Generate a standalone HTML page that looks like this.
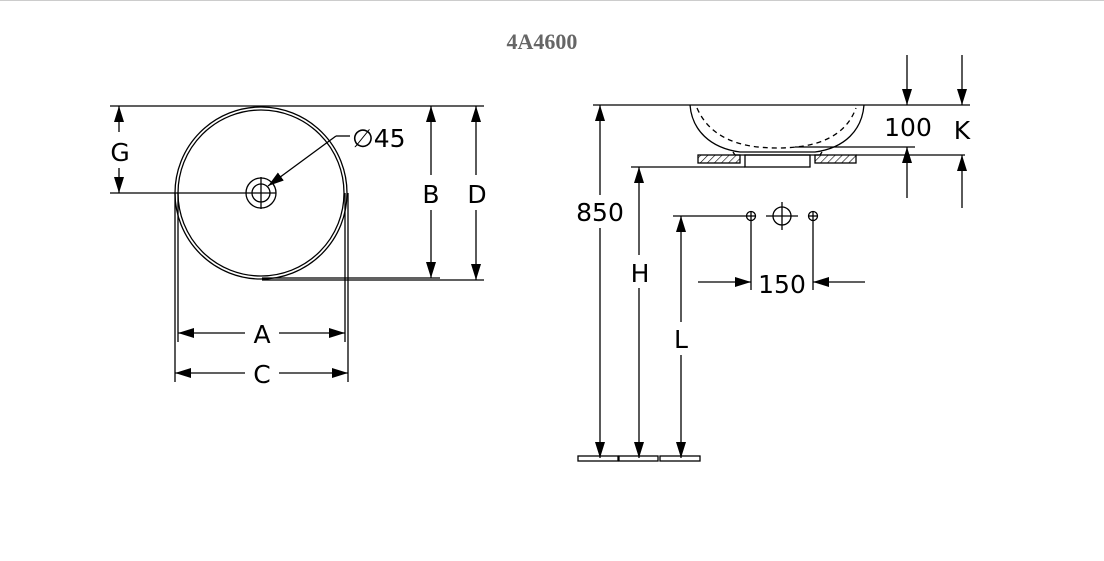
<!DOCTYPE html>
<html><head><meta charset="utf-8"><style>
html,body{margin:0;padding:0;background:#fff;}
svg{display:block;}
text{font-family:"DejaVu Sans","Liberation Sans",sans-serif;font-size:25px;fill:#000;}
</style></head><body>
<svg width="1104" height="561" viewBox="0 0 1104 561" xmlns="http://www.w3.org/2000/svg">
<defs>
<marker id="a" viewBox="0 0 16 10" refX="16" refY="5" markerWidth="16" markerHeight="10" markerUnits="userSpaceOnUse" orient="auto-start-reverse"><path d="M0,0L16,5L0,10z" fill="#000"/></marker>
<pattern id="h" width="5" height="5" patternUnits="userSpaceOnUse" patternTransform="rotate(45)"><line x1="0" y1="0" x2="0" y2="5" stroke="#000" stroke-width="1.2"/></pattern>
</defs>
<line x1="0" y1="0.5" x2="1104" y2="0.5" stroke="#ccc"/>
<text x="542" y="49" text-anchor="middle" style="font-family:'Liberation Serif',serif;font-weight:bold;font-size:22px;fill:#666">4A4600</text>
<g stroke="#000" stroke-width="1.3" fill="none">
<circle cx="261" cy="193" r="86"/>
<circle cx="261" cy="193" r="83"/>
<circle cx="261" cy="193" r="15"/>
<circle cx="261" cy="193" r="9"/>
<line x1="246" y1="193" x2="276" y2="193"/><line x1="261" y1="177" x2="261" y2="209"/>
<line x1="110" y1="106" x2="484" y2="106"/>
<line x1="110" y1="193" x2="246" y2="193"/>
<line x1="262" y1="278" x2="440" y2="278"/>
<line x1="262" y1="280" x2="484" y2="280"/>
<line x1="175" y1="193" x2="175" y2="382"/><line x1="178" y1="193" x2="178" y2="342"/>
<line x1="348" y1="193" x2="348" y2="382"/><line x1="345" y1="193" x2="345" y2="342"/>
<line x1="119" y1="132" x2="119" y2="106" marker-end="url(#a)"/>
<line x1="119" y1="168" x2="119" y2="193" marker-end="url(#a)"/>
<line x1="431" y1="175" x2="431" y2="106" marker-end="url(#a)"/>
<line x1="431" y1="210" x2="431" y2="278" marker-end="url(#a)"/>
<line x1="476" y1="175" x2="476" y2="106" marker-end="url(#a)"/>
<line x1="476" y1="210" x2="476" y2="280" marker-end="url(#a)"/>
<line x1="245" y1="333" x2="178" y2="333" marker-end="url(#a)"/>
<line x1="279" y1="333" x2="345" y2="333" marker-end="url(#a)"/>
<line x1="245" y1="373" x2="175" y2="373" marker-end="url(#a)"/>
<line x1="279" y1="373" x2="348" y2="373" marker-end="url(#a)"/>
<polyline points="350,136 336,136"/>
<line x1="336" y1="136" x2="268" y2="186" marker-end="url(#a)"/>
<line x1="593" y1="105" x2="970" y2="105"/>
<path d="M690,105 C692,130 710,148 740,152 L815,152 C845,148 862,130 864,105"/>
<path d="M697,108 C710,138 740,148 777,148 C815,148 845,138 856,108" stroke-dasharray="5,4"/>
<path d="M733,152 L735,155 M822,152 L820,155"/>
<line x1="795" y1="147" x2="915" y2="147"/>
<line x1="735" y1="155" x2="820" y2="155"/>
<line x1="856" y1="155" x2="965" y2="155"/>
<rect x="698" y="155" width="42" height="8" fill="url(#h)"/>
<rect x="815" y="155" width="41" height="8" fill="url(#h)"/>
<rect x="745" y="155" width="65" height="12"/>
<line x1="631" y1="167" x2="745" y2="167"/>
<line x1="907" y1="55" x2="907" y2="105" marker-end="url(#a)"/>
<line x1="907" y1="198" x2="907" y2="147" marker-end="url(#a)"/>
<line x1="962" y1="55" x2="962" y2="105" marker-end="url(#a)"/>
<line x1="962" y1="208" x2="962" y2="155" marker-end="url(#a)"/>
<line x1="600" y1="195" x2="600" y2="105" marker-end="url(#a)"/>
<line x1="600" y1="228" x2="600" y2="458" marker-end="url(#a)"/>
<line x1="639" y1="255" x2="639" y2="167" marker-end="url(#a)"/>
<line x1="639" y1="288" x2="639" y2="458" marker-end="url(#a)"/>
<line x1="681" y1="322" x2="681" y2="216" marker-end="url(#a)"/>
<line x1="681" y1="355" x2="681" y2="458" marker-end="url(#a)"/>
<line x1="673" y1="216" x2="747" y2="216"/>
<circle cx="751" cy="216" r="4.5"/><line x1="747" y1="216" x2="755" y2="216"/><line x1="751" y1="212" x2="751" y2="220"/>
<circle cx="813" cy="216" r="4.5"/><line x1="809" y1="216" x2="817" y2="216"/><line x1="813" y1="212" x2="813" y2="220"/>
<circle cx="782" cy="216" r="9"/>
<line x1="766" y1="216" x2="798" y2="216"/><line x1="782" y1="202" x2="782" y2="230"/>
<line x1="751" y1="220" x2="751" y2="290"/>
<line x1="813" y1="220" x2="813" y2="290"/>
<line x1="698" y1="282" x2="751" y2="282" marker-end="url(#a)"/>
<line x1="865" y1="282" x2="813" y2="282" marker-end="url(#a)"/>
<rect x="578" y="456" width="40" height="5"/>
<rect x="619" y="456" width="39" height="5"/>
<rect x="660" y="456" width="40" height="5"/>
</g>
<text x="120" y="161" text-anchor="middle">G</text>
<text x="431" y="203" text-anchor="middle">B</text>
<text x="477" y="203" text-anchor="middle">D</text>
<text x="262" y="343" text-anchor="middle">A</text>
<text x="262" y="383" text-anchor="middle">C</text>
<text x="352" y="147">∅45</text>
<text x="908" y="136" text-anchor="middle">100</text>
<text x="962" y="139" text-anchor="middle">K</text>
<text x="600" y="221" text-anchor="middle">850</text>
<text x="640" y="282" text-anchor="middle">H</text>
<text x="681" y="348" text-anchor="middle">L</text>
<text x="782" y="293" text-anchor="middle">150</text>
</svg>
</body></html>
